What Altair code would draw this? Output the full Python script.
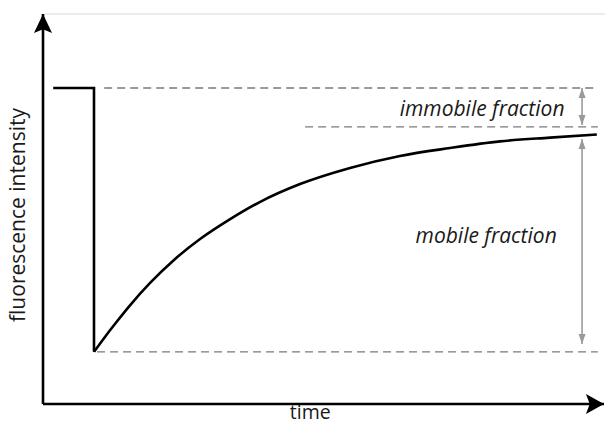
import altair as alt
import pandas as pd

# ---- data (time in arbitrary units, intensity in % of pre-bleach) ----
step_t = [2, 10, 10]
step_i = [100, 100, 16.5]

recovery_t = [10.0, 12.0, 14.1, 17.1, 21.0, 25.9, 30.8, 36.7, 42.5, 50.4,
              60.2, 70.0, 79.8, 89.6, 99.4, 108.6]
recovery_i = [16.5, 20.9, 25.3, 31.3, 38.3, 45.9, 52.2, 58.5, 63.9, 69.6,
              74.7, 78.5, 81.0, 83.1, 84.3, 85.3]

level_names = ["pre-bleach", "plateau", "post-bleach"]
level_values = [100, 87.7, 16.5]
level_start = [12.0, 51.4, 10.6]
level_end = [108.8, 108.8, 108.8]

arrow_names = ["immobile fraction", "mobile fraction"]
arrow_top = [100, 83.9]
arrow_bottom = [88.3, 19.0]
arrow_t = [105.7, 105.7]
label_t = [86.1, 86.9]
label_i = [93.0, 52.8]

title_names = ["fluorescence intensity", "time"]
title_t = [-4.7, 52.4]
title_i = [59.8, -4.9]

axis_x_end = 110.0
axis_y_end = 123.4
frame_i = 123.4

X_DOMAIN = [-6.863, 110.2]
Y_DOMAIN = [-5.70, 125.32]

xs = alt.Scale(domain=X_DOMAIN, nice=False, zero=False)
ys = alt.Scale(domain=Y_DOMAIN, nice=False, zero=False)

step = pd.DataFrame({"t": step_t, "i": step_i, "o": list(range(len(step_t)))})
recovery = pd.DataFrame({"t": recovery_t, "i": recovery_i})
levels = pd.DataFrame({"name": level_names, "i": level_values,
                       "t": level_start, "t2": level_end})
arrows = pd.DataFrame({"name": arrow_names, "t": arrow_t,
                       "top": arrow_top, "bottom": arrow_bottom,
                       "lt": label_t, "li": label_i})
titles = pd.DataFrame({"name": title_names, "t": title_t, "i": title_i})

GRAY = "#9a9a9a"
FONT = "Open Sans"
FS = 21


def X(f="t"):
    return alt.X(f"{f}:Q", scale=xs, axis=None)


def Y(f="i"):
    return alt.Y(f"{f}:Q", scale=ys, axis=None)


frame = alt.Chart(pd.DataFrame({"t": [0.4], "t2": [X_DOMAIN[1]], "i": [frame_i]})).mark_rule(
    color="#ececec", strokeWidth=2
).encode(x=X(), x2="t2:Q", y=Y())

dashed = alt.Chart(levels).mark_rule(
    color="#7a7a7a", strokeWidth=1.4, strokeDash=[8, 5]
).encode(x=X(), x2="t2:Q", y=Y())

step_line = alt.Chart(step).mark_line(
    color="black", strokeWidth=2.6, strokeJoin="miter", strokeCap="butt"
).encode(x=X(), y=Y(), order="o:Q")

curve = alt.Chart(recovery).mark_line(
    color="black", strokeWidth=2.6, strokeCap="butt", interpolate="monotone"
).encode(x=X(), y=Y())

shaft = alt.Chart(arrows).mark_rule(color=GRAY, strokeWidth=1.6).encode(
    x=X(), y=Y("top"), y2="bottom:Q")

head_up = alt.Chart(arrows).mark_point(
    shape="M0,0L0.7,2L-0.7,2Z", size=100, filled=True, color=GRAY, opacity=1, strokeWidth=0
).encode(x=X(), y=Y("top"))

head_down = alt.Chart(arrows).mark_point(
    shape="M0,0L0.7,-2L-0.7,-2Z", size=100, filled=True, color=GRAY, opacity=1, strokeWidth=0
).encode(x=X(), y=Y("bottom"))

labels = alt.Chart(arrows).mark_text(
    font=FONT, fontSize=FS, fontStyle="italic", color="#1a1a1a"
).encode(x=X("lt"), y=Y("li"), text="name:N")

axes_df = pd.DataFrame({"t": [0, 0], "t2": [axis_x_end, 0], "i": [0, 0], "i2": [0, axis_y_end]})
axes = alt.Chart(axes_df).mark_rule(color="black", strokeWidth=2.6).encode(
    x=X(), x2="t2:Q", y=Y(), y2="i2:Q")

y_head = alt.Chart(pd.DataFrame({"t": [0], "i": [axis_y_end]})).mark_point(
    shape="M0,0L0.95,2L0,1.6L-0.95,2Z", size=361, filled=True, color="black", opacity=1, strokeWidth=0
).encode(x=X(), y=Y())

x_head = alt.Chart(pd.DataFrame({"t": [axis_x_end], "i": [0]})).mark_point(
    shape="M0,0L-1.9,-1.05L-1.5,0L-1.9,1.05Z", size=361, filled=True, color="black", opacity=1, strokeWidth=0
).encode(x=X(), y=Y())

ytitle = alt.Chart(titles.iloc[[0]]).mark_text(
    font=FONT, fontSize=21, color="#1a1a1a", angle=270
).encode(x=X(), y=Y(), text="name:N")
xtitle = alt.Chart(titles.iloc[[1]]).mark_text(
    font=FONT, fontSize=19.5, color="#1a1a1a", baseline="alphabetic"
).encode(x=X(), y=Y(), text="name:N")

chart = alt.layer(
    frame, dashed, shaft, head_up, head_down, step_line, curve, axes, y_head, x_head,
    labels, ytitle, xtitle
).properties(
    width=597, height=414, padding=0, background="white",
    autosize=alt.AutoSizeParams(type="none")
).configure_view(stroke=None)

chart.save("out.html", embed_options={"renderer": "svg", "actions": False})
